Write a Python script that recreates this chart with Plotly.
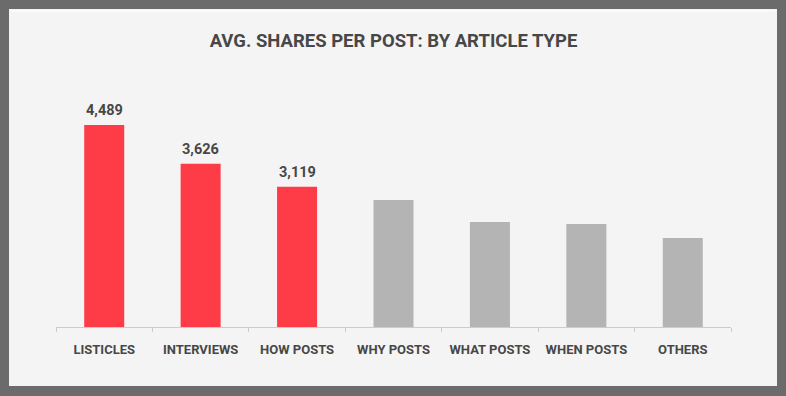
import plotly.graph_objects as go

categories = ["LISTICLES", "INTERVIEWS", "HOW POSTS", "WHY POSTS", "WHAT POSTS", "WHEN POSTS", "OTHERS"]
values = [4489, 3626, 3119, 2822, 2333, 2289, 1978]
labels = ["4,489", "3,626", "3,119", "", "", "", ""]
colors = ["#fe3c47", "#fe3c47", "#fe3c47", "#b4b4b4", "#b4b4b4", "#b4b4b4", "#b4b4b4"]
title = "AVG. SHARES PER POST: BY ARTICLE TYPE"

W, H = 786, 396
L, R, T, B = 56, 55, 60, 69
pw, ph = W - L - R, H - T - B
FONT = "Roboto, sans-serif"
TXT = "#474747"

def px(x):
    return (x - L) / pw

def py(y):
    return (H - B - y) / ph

fig = go.Figure(go.Bar(
    x=categories, y=values, marker_color=colors, marker_line_width=0, hoverinfo="x+y",
))

annotations = [
    dict(x=c, y=v, xref="x", yref="y", text="<b>" + t + "</b>", showarrow=False,
         yanchor="bottom", yshift=4, font=dict(family=FONT, size=14.5, color=TXT))
    for c, v, t in zip(categories, values, labels) if t
]

fig.update_layout(
    width=W, height=H,
    margin=dict(l=L, r=R, t=T, b=B, pad=0, autoexpand=False),
    paper_bgcolor="#6b6b6b", plot_bgcolor="rgba(0,0,0,0)",
    bargap=0.585, showlegend=False,
    font=dict(family=FONT, color=TXT),
    title=dict(text="<b>" + title + "</b>", x=0.5, xanchor="center", xref="paper",
               y=1 - 41 / H, yanchor="middle",
               font=dict(family=FONT, size=18.5, color=TXT)),
    annotations=annotations,
    shapes=[dict(type="rect", xref="paper", yref="paper", x0=px(9), x1=px(777), y0=py(386), y1=py(9),
                 fillcolor="#f4f4f4", line_width=0, layer="below"),
            dict(type="line", xref="paper", yref="paper", x0=px(11), x1=px(775), y0=py(11), y1=py(11),
                 line=dict(color="#ffffff", width=1), layer="below")],
)
fig.update_xaxes(showline=True, linecolor="#cccccc", linewidth=1, ticks="outside", tickson="boundaries",
                 ticklen=4, tickcolor="#cccccc", showgrid=False, tickangle=0, automargin=False,
                 ticklabelstandoff=10,
                 tickfont=dict(family=FONT, size=13, color=TXT, weight="bold"))
fig.update_yaxes(range=[0, ph / 0.045], visible=False, showgrid=False, automargin=False)

fig.write_html("out.html", config={"displayModeBar": False},
               post_script="document.body.style.margin='0';document.body.style.overflow='hidden';")
